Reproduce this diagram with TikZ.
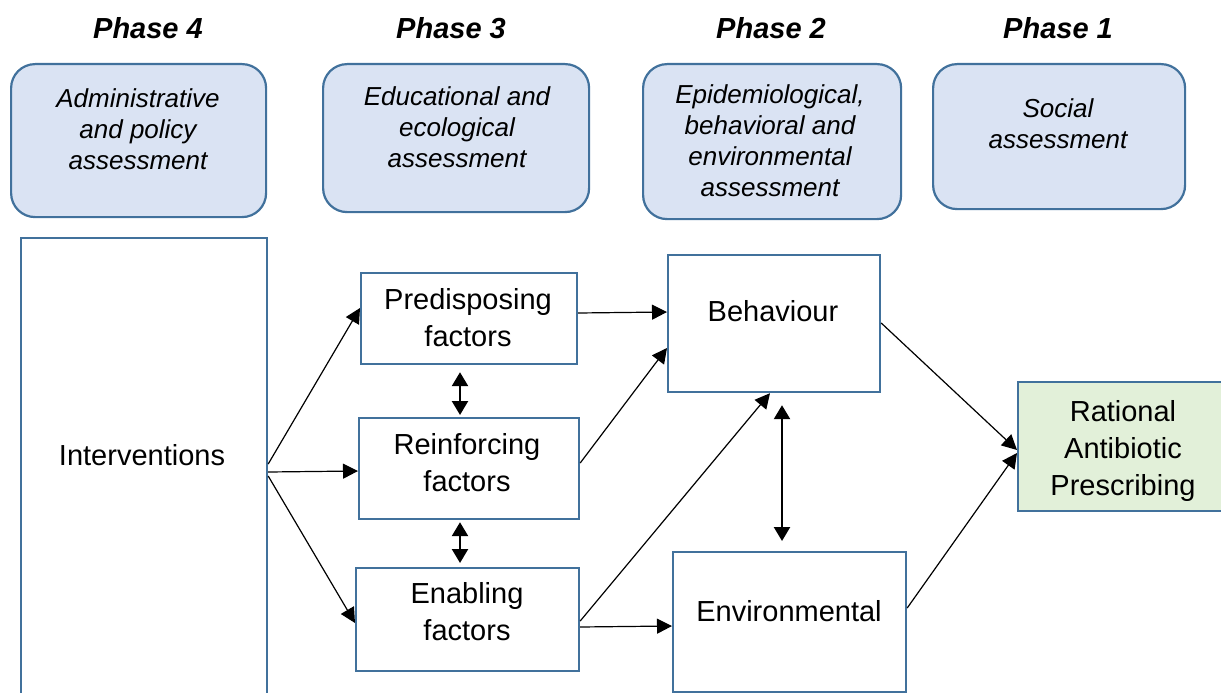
\documentclass[tikz,border=0pt]{standalone}
\usepackage{fontspec}
\setmainfont{Liberation Sans}
\usetikzlibrary{arrows.meta}
\definecolor{bord}{HTML}{41719C}
\definecolor{bluefill}{HTML}{DAE3F3}
\definecolor{greenfill}{HTML}{E2F0D9}
\begin{document}
\begin{tikzpicture}[x=1pt,y=-1pt,
  phase/.style={font=\fontsize{29}{33}\selectfont\bfseries\itshape, inner sep=0pt},
  roundbox/.style={draw=bord, line width=2.2pt, fill=bluefill, rounded corners=24pt, inner sep=0pt, anchor=north west},
  rtext/.style={font=\fontsize{26}{31}\selectfont\itshape, align=center, inner sep=0pt},
  box/.style={draw=bord, line width=2.2pt, fill=white, inner sep=0pt, anchor=north west},
  gbox/.style={box, fill=greenfill},
  btext/.style={font=\fontsize{29}{37}\selectfont, align=center, inner sep=0pt},
  arr/.style={line width=1.2pt, -{Triangle[length=15pt,width=15pt]}},
  dbl/.style={line width=2.4pt, {Triangle[length=14pt,width=16pt]}-{Triangle[length=14pt,width=16pt]}}]
\useasboundingbox (0,0) rectangle (1221,693);
% phases
\node[phase] (p4) at (148,28) {Phase 4};
\node[phase] (p3) at (451,28) {Phase 3};
\node[phase] (p2) at (771,28) {Phase 2};
\node[phase] (p1) at (1058,28) {Phase 1};
% rounded assessment boxes
\node[roundbox, minimum width=255, minimum height=153] (r4) at (10,63) {};
\node[roundbox, minimum width=266, minimum height=148] (r3) at (322,63) {};
\node[roundbox, minimum width=258, minimum height=155] (r2) at (642,63) {};
\node[roundbox, minimum width=252, minimum height=145] (r1) at (932,63) {};
\node[rtext] (t4) at (138,129) {Administrative\\and policy\\assessment};
\node[rtext] (t3) at (457,127) {Educational and\\ecological\\assessment};
\node[rtext] (t2) at (770,141) {Epidemiological,\\behavioral and\\environmental\\assessment};
\node[rtext] (t1) at (1058,124) {Social\\assessment};
% boxes
\node[box, minimum width=246, minimum height=470] (int) at (20,237) {};
\node[btext] (intl) at (142,455) {Interventions};
\node[box, minimum width=216, minimum height=91] (pre) at (360,272) {};
\node[btext] (prel) at (468,318) {Predisposing\\factors};
\node[box, minimum width=220, minimum height=101] (rei) at (358,417) {};
\node[btext] (reil) at (467,463) {Reinforcing\\factors};
\node[box, minimum width=223, minimum height=103] (ena) at (355,567) {};
\node[btext] (enal) at (467,612) {Enabling\\factors};
\node[box, minimum width=212, minimum height=137] (beh) at (667,254) {};
\node[btext] (behl) at (773,311) {Behaviour};
\node[box, minimum width=233, minimum height=140] (env) at (672,551) {};
\node[btext] (envl) at (789,611) {Environmental};
\node[gbox, minimum width=215, minimum height=129] (rap) at (1017,381) {};
\node[btext] (rapl) at (1123,451) {Rational\\Antibiotic\\Prescribing};
% connectors
\draw[arr] (int.east |- 0,464) -- (pre.west |- 0,308);
\draw[arr] (int.east |- 0,472) -- (rei.west |- 0,471);
\draw[arr] (int.east |- 0,476) -- (ena.west |- 0,623);
\draw[arr] (pre.east |- 0,313) -- (beh.west |- 0,312);
\draw[arr] (rei.east |- 0,463) -- (beh.west |- 0,348);
\draw[arr] (ena.east |- 0,621) -- (beh.south -| 770,0);
\draw[arr] (ena.east |- 0,627) -- (env.west |- 0,626);
\draw[arr] (beh.east |- 0,323) -- (rap.west |- 0,450);
\draw[arr] (env.east |- 0,608) -- (rap.west |- 0,453);
\draw[dbl, shorten <=7pt, shorten >=2pt] (pre.south -| 460,0) -- (rei.north -| 460,0);
\draw[dbl, shorten <=2pt, shorten >=4pt] (rei.south -| 460,0) -- (ena.north -| 460,0);
\draw[dbl, shorten <=12pt, shorten >=10pt] (beh.south -| 782,0) -- (env.north -| 782,0);
\end{tikzpicture}
\end{document}
